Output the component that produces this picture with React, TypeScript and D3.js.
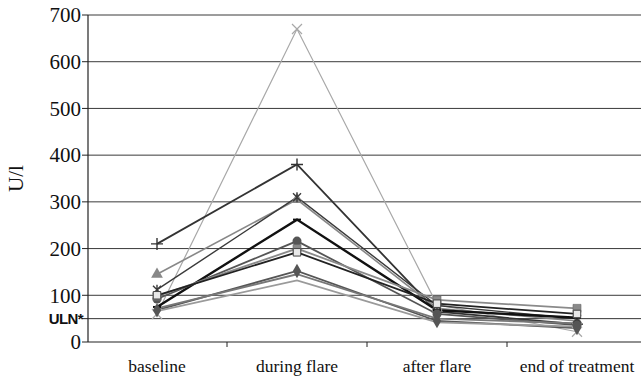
import React from "react";
import * as d3 from "d3";

const categories = ["baseline", "during flare", "after flare", "end of treatment"];
const yTicks = [0, 100, 200, 300, 400, 500, 600, 700];
const ulnValue = 50;

type Series = { name: string; values: number[]; color: string; width: number; marker: string };

const series: Series[] = [
  { name: "p1", values: [60, 670, 80, 22], color: "#a8a8a8", width: 1.2, marker: "x" },
  { name: "p2", values: [210, 380, 65, 38], color: "#333", width: 1.8, marker: "plus" },
  { name: "p3", values: [145, 305, 72, 45], color: "#888", width: 1.6, marker: "triangle" },
  { name: "p4", values: [112, 310, 78, 50], color: "#3a3a3a", width: 1.4, marker: "star" },
  { name: "p5", values: [75, 262, 68, 52], color: "#111", width: 2.4, marker: "dash" },
  { name: "p6", values: [92, 216, 60, 36], color: "#555", width: 1.8, marker: "circle" },
  { name: "p7", values: [98, 200, 90, 72], color: "#8a8a8a", width: 1.8, marker: "square" },
  { name: "p8", values: [100, 192, 82, 60], color: "#222", width: 1.8, marker: "squareOpen" },
  { name: "p9", values: [68, 152, 45, 30], color: "#555", width: 1.8, marker: "diamond" },
  { name: "p10", values: [72, 145, 50, 40], color: "#777", width: 1.8, marker: "none" },
  { name: "p11", values: [66, 132, 42, 33], color: "#9a9a9a", width: 1.8, marker: "none" },
];

const W = 641;
const H = 380;
const SERIF = "'Liberation Serif', 'Times New Roman', serif";

export default function App() {
  const x = d3.scaleBand<string>().domain(categories).range([87, 647]).padding(0);
  const y = d3.scaleLinear().domain([0, 700]).range([342, 15]);
  const cx = (c: string) => (x(c) ?? 0) + x.bandwidth() / 2;

  const line = d3
    .line<number>()
    .x((_, i) => cx(categories[i]))
    .y((v) => y(v));

  const sym = (type: d3.SymbolType, size: number) => d3.symbol().type(type).size(size)() || "";

  const marker = (s: Series, v: number, i: number) => {
    const px = cx(categories[i]);
    const py = y(v);
    const key = `${s.name}-${i}`;
    const t = `translate(${px},${py})`;
    switch (s.marker) {
      case "x":
        return <path key={key} transform={t} d="M-5,-5L5,5M-5,5L5,-5" stroke={s.color} strokeWidth={1.2} fill="none" />;
      case "plus":
        return <path key={key} transform={t} d="M-6,0L6,0M0,-6L0,6" stroke={s.color} strokeWidth={1.4} fill="none" />;
      case "star":
        return <path key={key} transform={t} d="M-4,-4L4,4M-4,4L4,-4M0,-5L0,5" stroke={s.color} strokeWidth={1.4} fill="none" />;
      case "dash":
        return <path key={key} transform={t} d="M-4,0L4,0" stroke={s.color} strokeWidth={2} fill="none" />;
      case "triangle":
        return <path key={key} transform={t} d={sym(d3.symbolTriangle, 60)} fill={s.color} />;
      case "circle":
        return <path key={key} transform={t} d={sym(d3.symbolCircle, 64)} fill={s.color} />;
      case "square":
        return <path key={key} transform={t} d={sym(d3.symbolSquare, 64)} fill={s.color} stroke="#666" strokeWidth={0.6} />;
      case "squareOpen":
        return <path key={key} transform={t} d={sym(d3.symbolSquare, 56)} fill="#e8e8e8" stroke="#444" strokeWidth={1} />;
      case "diamond":
        return <path key={key} transform={t} d={sym(d3.symbolDiamond, 60)} fill={s.color} />;
      default:
        return null;
    }
  };

  const bandEdges = categories.slice(1).map((c) => x(c) ?? 0);

  return (
    <svg width={W} height={H} style={{ position: "absolute", left: 0, top: 0, background: "#fff" }}>
      {/* Grid */}
      {yTicks.filter((t) => t > 0).map((t) => (
        <line key={t} x1={88} x2={W} y1={y(t)} y2={y(t)} stroke="#3a3a3a" strokeWidth={1} />
      ))}
      <line x1={88} x2={W} y1={y(ulnValue)} y2={y(ulnValue)} stroke="#333" strokeWidth={1} />

      {/* Y axis */}
      <line x1={88} x2={88} y1={y(700)} y2={y(0)} stroke="#222" strokeWidth={1.2} />
      {yTicks.map((t) => (
        <g key={t}>
          <line x1={82} x2={88} y1={y(t)} y2={y(t)} stroke="#222" />
          <text x={81} y={y(t)} dy="0.35em" textAnchor="end" fontFamily={SERIF} fontSize={21} fill="#111">
            {t}
          </text>
        </g>
      ))}
      <line x1={82} x2={88} y1={y(ulnValue)} y2={y(ulnValue)} stroke="#222" />
      <text
        x={83}
        y={y(ulnValue)}
        dy="0.36em"
        textAnchor="end"
        fontFamily="'Liberation Sans', sans-serif"
        fontSize={15}
        fontWeight="bold"
        fill="#111"
        letterSpacing={-0.6}
      >
        ULN*
      </text>
      <text
        transform={`translate(23,${(y(300) + y(400)) / 2}) rotate(-90)`}
        textAnchor="middle"
        fontFamily={SERIF}
        fontSize={21}
        fill="#111"
      >
        U/l
      </text>

      {/* X axis */}
      <line x1={88} x2={W} y1={y(0)} y2={y(0)} stroke="#222" strokeWidth={1.2} />
      {bandEdges.map((e) => (
        <line key={e} x1={e} x2={e} y1={y(0)} y2={y(0) + 5} stroke="#222" />
      ))}
      {categories.map((c) => (
        <text key={c} x={cx(c)} y={372} textAnchor="middle" fontFamily={SERIF} fontSize={17.5} fill="#111">
          {c}
        </text>
      ))}

      {/* Lines */}
      {series.map((s) => (
        <path key={s.name} d={line(s.values) || ""} fill="none" stroke={s.color} strokeWidth={s.width} />
      ))}
      {series.map((s) => s.values.map((v, i) => marker(s, v, i)))}
    </svg>
  );
}
